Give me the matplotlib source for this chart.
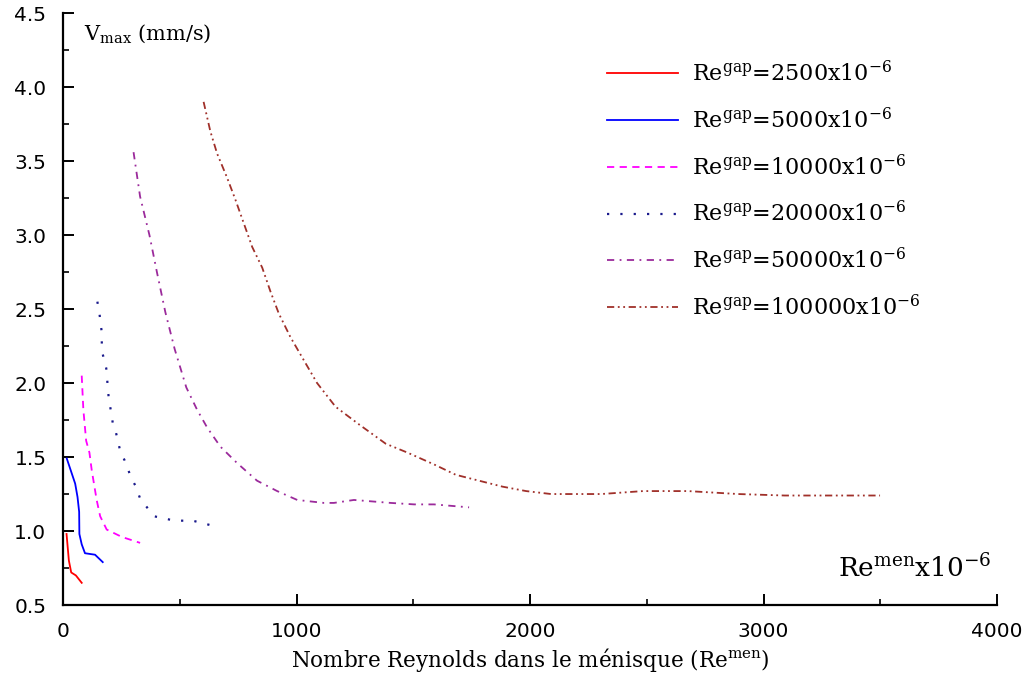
import matplotlib.pyplot as plt
from matplotlib.ticker import MultipleLocator

# Re_gap = 2500e-6
re_2500 = [15, 25, 35, 55, 80]
v_2500 = [0.98, 0.80, 0.72, 0.70, 0.65]

# Re_gap = 5000e-6
re_5000 = [16, 33, 52, 62, 69, 70, 80, 94, 137, 170]
v_5000 = [1.49, 1.41, 1.32, 1.23, 1.13, 0.98, 0.91, 0.85, 0.84, 0.79]

# Re_gap = 10000e-6
re_10000 = [80, 87, 99, 113, 123, 144, 159, 187, 252, 330]
v_10000 = [2.05, 1.82, 1.61, 1.53, 1.41, 1.21, 1.10, 1.01, 0.96, 0.92]

# Re_gap = 20000e-6
re_20000 = [147, 156, 166, 166, 185, 195, 213, 226, 245, 263, 292, 312, 330, 389, 478, 555, 631]
v_20000 = [2.55, 2.47, 2.34, 2.22, 2.10, 1.91, 1.73, 1.67, 1.54, 1.48, 1.36, 1.30, 1.22, 1.10, 1.07, 1.07, 1.04]

# Re_gap = 50000e-6
re_50000 = [302, 330, 370, 402, 438, 478, 528, 574, 617, 674, 745, 831, 917, 1003,
            1117, 1160, 1246, 1403, 1504, 1589, 1739]
v_50000 = [3.56, 3.26, 3.00, 2.75, 2.48, 2.23, 1.97, 1.82, 1.70, 1.57, 1.46, 1.34, 1.27, 1.21,
           1.19, 1.19, 1.21, 1.19, 1.18, 1.18, 1.16]

# Re_gap = 100000e-6
re_100000 = [602, 631, 660, 702, 738, 774, 810, 853, 888, 924, 974, 1029, 1088, 1167,
             1268, 1382, 1475, 1589, 1682, 1782, 1882, 1983, 2090, 2190, 2305, 2484,
             2676, 2891, 3091, 3499]
v_100000 = [3.90, 3.70, 3.55, 3.39, 3.24, 3.08, 2.92, 2.78, 2.62, 2.47, 2.31, 2.16, 2.00, 1.84,
            1.72, 1.59, 1.53, 1.45, 1.38, 1.34, 1.30, 1.27, 1.25, 1.25, 1.25, 1.27,
            1.27, 1.25, 1.24, 1.24]

labels = ['2500', '5000', '10000', '20000', '50000', '100000']

plt.rcParams['font.family'] = 'DejaVu Serif'
plt.rcParams['mathtext.default'] = 'regular'

fig = plt.figure(figsize=(10.25, 6.88), dpi=100)
ax = fig.add_axes([0.0615, 0.1206, 0.9112, 0.8604])

lw = 1.3
ax.plot(re_2500, v_2500, color='red', lw=lw, label='Re$^{gap}$=%sx10$^{-6}$' % labels[0])
ax.plot(re_5000, v_5000, color='blue', lw=lw, label='Re$^{gap}$=%sx10$^{-6}$' % labels[1])
ax.plot(re_10000, v_10000, color='magenta', lw=lw, ls=(0, (4, 3)),
        label='Re$^{gap}$=%sx10$^{-6}$' % labels[2])
ax.plot(re_20000, v_20000, color='#1a1a8c', lw=1.6, ls=(0, (1, 5)),
        label='Re$^{gap}$=%sx10$^{-6}$' % labels[3])
ax.plot(re_50000, v_50000, color='#9b2a9b', lw=lw, ls=(0, (4, 3, 1, 3)),
        label='Re$^{gap}$=%sx10$^{-6}$' % labels[4])
ax.plot(re_100000, v_100000, color='#a0302a', lw=lw, ls=(0, (4, 2, 1, 2, 1, 2)),
        label='Re$^{gap}$=%sx10$^{-6}$' % labels[5])

ax.set_xlim(0, 4000)
ax.set_ylim(0.5, 4.5)
ax.xaxis.set_major_locator(MultipleLocator(1000))
ax.xaxis.set_minor_locator(MultipleLocator(500))
ax.yaxis.set_major_locator(MultipleLocator(0.5))
ax.yaxis.set_minor_locator(MultipleLocator(0.25))
ax.yaxis.set_major_formatter(plt.FormatStrFormatter('%.1f'))

ax.spines['top'].set_visible(False)
ax.spines['right'].set_visible(False)
ax.spines['left'].set_linewidth(1.6)
ax.spines['bottom'].set_linewidth(1.6)
ax.tick_params(which='major', direction='in', length=8, width=1.4, pad=12)
ax.tick_params(which='minor', direction='in', length=4, width=1.2)
for lab in ax.get_xticklabels() + ax.get_yticklabels():
    lab.set_family('DejaVu Sans')
    lab.set_fontsize(14.5)

ax.text(0.022, 0.985, 'V$_{max}$ (mm/s)', transform=ax.transAxes, fontsize=15,
        va='top', ha='left')
ax.text(0.83, 0.038, 'Re$^{men}$x10$^{-6}$', transform=ax.transAxes, fontsize=19,
        va='bottom', ha='left')
ax.set_xlabel('Nombre Reynolds dans le ménisque (Re$^{men}$)', fontsize=15.5, labelpad=4)

ax.legend(loc='upper left', bbox_to_anchor=(0.573, 0.934), frameon=False, fontsize=16,
          borderaxespad=0, handlelength=3.2, handletextpad=0.6, labelspacing=0.97)

fig.savefig('out.png', dpi=100)
